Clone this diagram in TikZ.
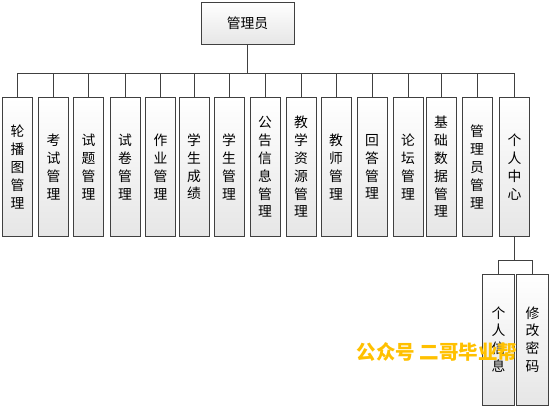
\documentclass[tikz,border=0pt]{standalone}
\usepackage{fontspec}
\newfontfamily\cjk{Noto Sans CJK SC}
\usetikzlibrary{positioning}
\definecolor{lngray}{HTML}{404040}
\definecolor{boxgray}{HTML}{E6E6E6}
\definecolor{wmgold}{HTML}{FFC000}

\tikzset{
  modbox/.style={draw=lngray, line width=0.9pt, top color=white, bottom color=boxgray,
    minimum width=30pt, minimum height=139pt, inner sep=0pt, align=center,
    font=\cjk\fontsize{13.8}{17.8}\selectfont},
  subbox/.style={modbox, minimum width=32pt, minimum height=131pt},
  link/.style={draw=lngray, line width=0.9pt}
}

\begin{document}
\begin{tikzpicture}[x=1pt, y=-1pt]

% Canvas — same size as the reference (pixels)
\useasboundingbox (0,0) rectangle (554,409);

% Root
\node[modbox, minimum width=93pt, minimum height=42pt] (root) at (247.5,23) {管理员};

% Bus lines
\coordinate (bus) at (0,73);
\coordinate (sbus) at (0,260);

% First level — tops at y=97.5, bottoms at y=236.5
\node[modbox] (lunbo)  at (17.5,167)  {轮\\播\\图\\管\\理};
\node[modbox] (kaoshi) at (53.5,167)  {考\\试\\管\\理};
\node[modbox] (shiti)  at (88.5,167)  {试\\题\\管\\理};
\node[modbox] (shijuan) at (125,167)  {试\\卷\\管\\理};
\node[modbox] (zuoye)  at (160.5,167) {作\\业\\管\\理};
\node[modbox] (chengji) at (194,167)  {学\\生\\成\\绩};
\node[modbox] (xuesheng) at (229,167) {学\\生\\管\\理};
\node[modbox] (gonggao) at (265,167)  {公\\告\\信\\息\\管\\理};
\node[modbox] (ziyuan) at (301,167)   {教\\学\\资\\源\\管\\理};
\node[modbox] (jiaoshi) at (336,167)  {教\\师\\管\\理};
\node[modbox] (huida)  at (372,167)   {回\\答\\管\\理};
\node[modbox] (luntan) at (408,167)   {论\\坛\\管\\理};
\node[modbox] (jichu)  at (441,167)   {基\\础\\数\\据\\管\\理};
\node[modbox] (guanli) at (477,167)   {管\\理\\员\\管\\理};
\node[modbox] (geren)  at (514.5,167) {个\\人\\中\\心};

% Second level under 个人中心
\node[subbox] (xinxi) at (498.5,339.5) {个\\人\\信\\息};
\node[subbox] (mima)  at (532.5,339.5) {修\\改\\密\\码};

% Root to first level
\draw[link] (root.south) -- (root.south |- bus) -| (lunbo.north);
\draw[link] (root.south) -- (root.south |- bus) -| (kaoshi.north);
\draw[link] (root.south) -- (root.south |- bus) -| (shiti.north);
\draw[link] (root.south) -- (root.south |- bus) -| (shijuan.north);
\draw[link] (root.south) -- (root.south |- bus) -| (zuoye.north);
\draw[link] (root.south) -- (root.south |- bus) -| (chengji.north);
\draw[link] (root.south) -- (root.south |- bus) -| (xuesheng.north);
\draw[link] (root.south) -- (root.south |- bus) -| (gonggao.north);
\draw[link] (root.south) -- (root.south |- bus) -| (ziyuan.north);
\draw[link] (root.south) -- (root.south |- bus) -| (jiaoshi.north);
\draw[link] (root.south) -- (root.south |- bus) -| (huida.north);
\draw[link] (root.south) -- (root.south |- bus) -| (luntan.north);
\draw[link] (root.south) -- (root.south |- bus) -| (jichu.north);
\draw[link] (root.south) -- (root.south |- bus) -| (guanli.north);
\draw[link] (root.south) -- (root.south |- bus) -| (geren.north);

% 个人中心 to its children
\draw[link] (geren.south) -- (geren.south |- sbus) -| (xinxi.north);
\draw[link] (geren.south) -- (geren.south |- sbus) -| (mima.north);

% Watermark
\node[text=wmgold, font=\cjk\bfseries\fontsize{19.5}{22}\selectfont] (wmark) at (437,352) {公众号 二哥毕业帮};

\end{tikzpicture}
\end{document}
